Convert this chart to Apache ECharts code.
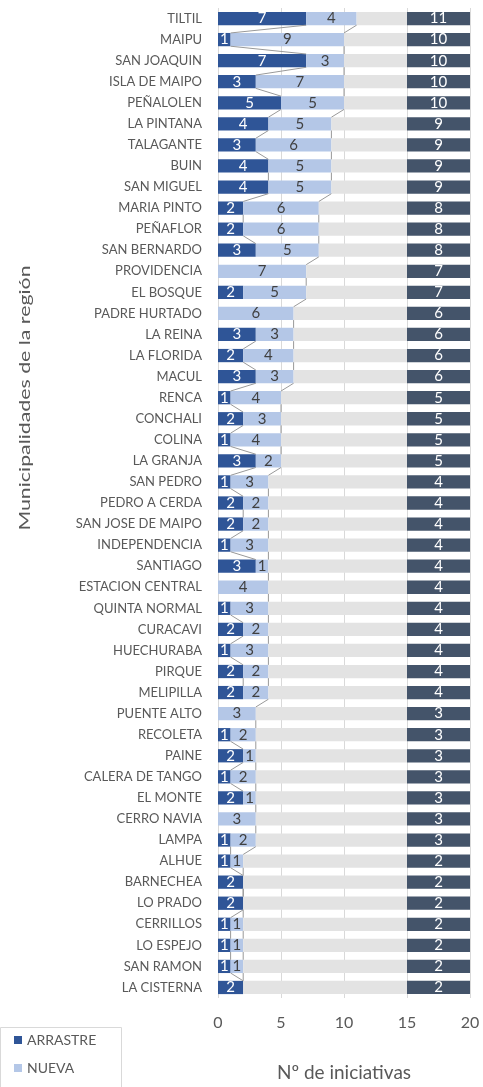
<!DOCTYPE html>
<html>
<head>
<meta charset="utf-8">
<script src="https://cdn.jsdelivr.net/npm/echarts@6/dist/echarts.min.js"></script>
<style>
  html, body { margin: 0; padding: 0; background: #fff; }
  #main { width: 483px; height: 1087px; }
</style>
</head>
<body>
<div id="main"></div>
<script>
var categories = ['TILTIL', 'MAIPU', 'SAN JOAQUIN', 'ISLA DE MAIPO', 'PEÑALOLEN', 'LA PINTANA', 'TALAGANTE', 'BUIN',
  'SAN MIGUEL', 'MARIA PINTO', 'PEÑAFLOR', 'SAN BERNARDO', 'PROVIDENCIA', 'EL BOSQUE', 'PADRE HURTADO', 'LA REINA',
  'LA FLORIDA', 'MACUL', 'RENCA', 'CONCHALI', 'COLINA', 'LA GRANJA', 'SAN PEDRO', 'PEDRO A CERDA', 'SAN JOSE DE MAIPO',
  'INDEPENDENCIA', 'SANTIAGO', 'ESTACION CENTRAL', 'QUINTA NORMAL', 'CURACAVI', 'HUECHURABA', 'PIRQUE', 'MELIPILLA',
  'PUENTE ALTO', 'RECOLETA', 'PAINE', 'CALERA DE TANGO', 'EL MONTE', 'CERRO NAVIA', 'LAMPA', 'ALHUE', 'BARNECHEA',
  'LO PRADO', 'CERRILLOS', 'LO ESPEJO', 'SAN RAMON', 'LA CISTERNA'];
var arrastre = [7, 1, 7, 3, 5, 4, 3, 4, 4, 2, 2, 3, 0, 2, 0, 3, 2, 3, 1, 2, 1, 3, 1, 2, 2, 1, 3, 0, 1, 2, 1, 2, 2,
  0, 1, 2, 1, 2, 0, 1, 1, 2, 2, 1, 1, 1, 2];
var nueva = [4, 9, 3, 7, 5, 5, 6, 5, 5, 6, 6, 5, 7, 5, 6, 3, 4, 3, 4, 3, 4, 2, 3, 2, 2, 3, 1, 4, 3, 2, 3, 2, 2,
  3, 2, 1, 2, 1, 3, 2, 1, 0, 0, 1, 1, 1, 0];
var totalStart = 15;
var axisMax = 20;

var totals = arrastre.map(function (a, i) { return a + nueva[i]; });
var FONT = 'Lato';
var GAP = 0.37;

// Excel style "series lines" joining segment ends of neighbouring bars
var linkData = [];
for (var i = 0; i < categories.length - 1; i++) {
  if (arrastre[i] > 0 && arrastre[i + 1] > 0) linkData.push([arrastre[i], i, arrastre[i + 1]]);
  linkData.push([totals[i], i, totals[i + 1]]);
}

var myChart = echarts.init(document.getElementById('main'));
var option = {
  animation: false,
  textStyle: { fontFamily: FONT },
  grid: { left: 218, right: 13, top: 8, bottom: 85 },
  legend: {
    data: ['ARRASTRE', 'NUEVA'],
    orient: 'vertical',
    left: 14,
    top: 1033,
    padding: 0,
    itemGap: 14,
    itemWidth: 8,
    itemHeight: 8,
    icon: 'rect',
    textStyle: { color: '#595959', fontSize: 14, fontFamily: FONT }
  },
  xAxis: {
    type: 'value',
    min: 0,
    max: axisMax,
    interval: 5,
    axisLine: { show: false },
    axisTick: { show: false },
    axisLabel: { color: '#595959', fontSize: 16, margin: 17 },
    splitLine: { lineStyle: { color: '#d9d9d9' } },
    name: 'Nº de iniciativas',
    nameLocation: 'middle',
    nameGap: 65,
    nameTextStyle: { color: '#595959', fontSize: 19 }
  },
  yAxis: {
    type: 'category',
    data: categories,
    inverse: true,
    axisLine: { show: false },
    axisTick: { show: false },
    axisLabel: { color: '#595959', fontSize: 13, margin: 16 }
  },
  graphic: [{
    type: 'text',
    x: 25,
    y: 398,
    rotation: Math.PI / 2,
    scaleX: 1.42,
    style: {
      text: 'Municipalidades de la región',
      fill: '#595959',
      fontSize: 15,
      fontFamily: FONT,
      align: 'center',
      verticalAlign: 'middle'
    }
  }, {
    type: 'rect',
    silent: true,
    shape: { x: 0.5, y: 1027.5, width: 121, height: 70 },
    style: { fill: null, stroke: '#d9d9d9', lineWidth: 1 }
  }],
  series: [
    {
      name: 'ARRASTRE',
      type: 'bar',
      stack: 'a',
      barCategoryGap: (GAP * 100) + '%',
      itemStyle: { color: '#2F5597' },
      label: {
        show: true, color: '#fff', fontSize: 15,
        formatter: function (p) { return p.value > 0 ? p.value : ''; }
      },
      data: arrastre
    },
    {
      name: 'NUEVA',
      type: 'bar',
      stack: 'a',
      itemStyle: { color: '#B4C7E7' },
      label: {
        show: true, color: '#404040', fontSize: 15,
        formatter: function (p) { return p.value > 0 ? p.value : ''; }
      },
      data: nueva
    },
    {
      name: 'resto',
      type: 'bar',
      stack: 'a',
      silent: true,
      itemStyle: { color: '#e3e3e3' },
      data: totals.map(function (t) { return totalStart - t; })
    },
    {
      name: 'TOTAL',
      type: 'bar',
      stack: 'a',
      silent: true,
      itemStyle: { color: '#44546A' },
      label: {
        show: true, color: '#fff', fontSize: 15,
        formatter: function (p) { return totals[p.dataIndex]; }
      },
      data: totals.map(function () { return axisMax - totalStart; })
    },
    {
      name: 'lineas',
      type: 'custom',
      silent: true,
      z: 5,
      encode: { x: [0, 2], y: 1 },
      renderItem: function (params, api) {
        var idx = api.value(1);
        var p1 = api.coord([api.value(0), idx]);
        var p2 = api.coord([api.value(2), idx + 1]);
        var band = Math.abs(api.size([0, 1])[1]);
        var h = band * (1 - GAP) / 2;
        return {
          type: 'line',
          shape: { x1: p1[0], y1: p1[1] + h, x2: p2[0], y2: p2[1] - h },
          style: { stroke: '#999999', lineWidth: 1 }
        };
      },
      data: linkData
    }
  ]
};
myChart.setOption(option);
</script>
</body>
</html>
